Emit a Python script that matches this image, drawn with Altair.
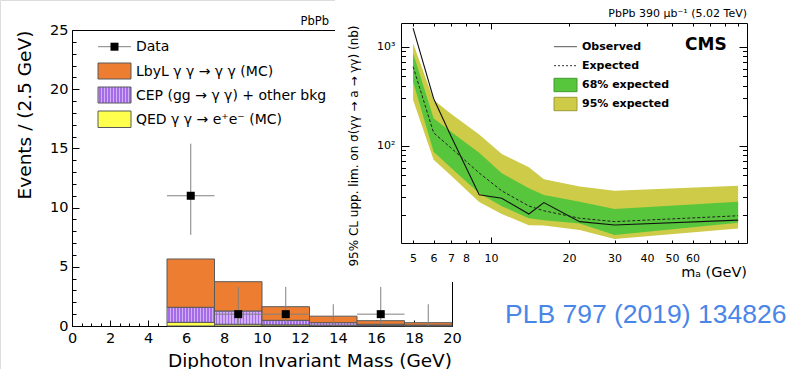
import altair as alt
import pandas as pd

FONT = "DejaVu Sans"

# ---------------- left panel: diphoton invariant mass ----------------
bin_lo = [5.0, 7.5, 10.0, 12.5, 15.0, 17.5]
bin_hi = [7.5, 10.0, 12.5, 15.0, 17.5, 20.0]
qed_mc = [0.31, 0.15, 0.10, 0.07, 0.04, 0.02]
cep_bkg = [1.27, 1.12, 0.38, 0.21, 0.11, 0.06]
lbyl_mc = [4.08, 2.47, 1.15, 0.55, 0.30, 0.20]

data_mass = [6.25, 8.75, 11.25, 13.75, 16.25, 18.75]
data_events = [11, 1, 1, 0, 1, 0]
data_err_down = [3.3, 0.83, 0.83, 0.0, 0.83, 0.0]
data_err_up = [4.4, 2.3, 2.3, 1.84, 2.3, 1.84]

# ---------------- right panel: ALP cross-section limits ----------------
ma = [5, 6, 7, 9, 11, 14, 16, 22, 30, 90]
observed = [1540, 300, 125, 32, 29.4, 20.4, 26.6, 17.1, 15.8, 17.7]
expected = [628, 135, 95, 53, 35, 24.6, 22.0, 18.5, 17.1, 19.6]
band68_lo = [442, 87, 60, 33, 24.5, 18.5, 17.7, 16.4, 12.5, 16.7]
band68_hi = [857, 189, 138, 85, 52.6, 37.2, 31.8, 27.2, 22.9, 27.2]
band95_lo = [290, 72, 50, 27, 20.4, 15.7, 15.6, 14.1, 11.4, 14.6]
band95_hi = [1080, 290, 210, 130, 82.4, 60.5, 45.7, 38.6, 35.1, 39.3]

# ---------------- tick values ----------------
xl_major = list(range(0, 21, 2))
xl_minor = [v / 2 for v in range(0, 41) if v % 4 != 0]
yl_major = [0, 5, 10, 15, 20, 25]
yl_minor = [v for v in range(1, 25) if v % 5 != 0]
xr_major = [10]
xr_minor = [5, 6, 7, 8, 9, 20, 30, 40, 50, 60, 70, 80, 90]
yr_major = [100, 1000]
yr_minor = [20, 30, 40, 50, 60, 70, 80, 90, 200, 300, 400, 500, 600, 700, 800, 900]

# ---------------- colours ----------------
ORANGE = "#ec7d31"
YELLOW = "#ffff4d"
EDGE = "#5a5a5a"
P_LIGHT = "#d2b0f7"
P_DARK = "#a56ce9"
GREEN = "#58c63c"
OLIVE = "#cdcb48"

# ---------------- tables ----------------
hist = pd.DataFrame({"lo": bin_lo, "hi": bin_hi, "qed": qed_mc, "cep": cep_bkg, "lbyl": lbyl_mc})
hist["s0"] = 0.0
hist["s1"] = hist["qed"]
hist["s2"] = hist["s1"] + hist["cep"]
hist["s3"] = hist["s2"] + hist["lbyl"]

pts = pd.DataFrame({"m": data_mass, "n": data_events, "dn": data_err_down, "up": data_err_up,
                    "xlo": bin_lo, "xhi": bin_hi})
pts["ylo"] = pts["n"] - pts["dn"]
pts["yhi"] = pts["n"] + pts["up"]
pts_nz = pts[pts["n"] > 0]

lim = pd.DataFrame({"ma": ma, "obs": observed, "exp": expected,
                    "g_lo": band68_lo, "g_hi": band68_hi, "y_lo": band95_lo, "y_hi": band95_hi})

one = pd.DataFrame({"k": [0]})

# ---------------- scales (pixel ranges of each panel) ----------------
xL = alt.Scale(domain=[0, 20], range=[72, 452], nice=False, zero=False)
yL = alt.Scale(domain=[0, 25], range=[326, 30], nice=False, zero=False)
xR = alt.Scale(type="log", domain=[4.49, 97.4], range=[401, 747], nice=False)
yR = alt.Scale(type="log", domain=[10.4, 1734], range=[243, 23], nice=False)


def axis(orient, offset, values, tick=0, labels=False, domain=False, z=0, pad=0,
         expr=None, fs=15):
    kw = dict(orient=orient, offset=offset, values=values, grid=False, title=None,
              ticks=tick > 0, domain=domain, labels=labels, zindex=z,
              domainColor="black", domainWidth=1, tickColor="black", tickWidth=1,
              labelFont=FONT, labelFontSize=fs, labelColor="black", labelPadding=pad,
              labelFlush=False, labelOverlap=False, labelBound=False)
    if tick > 0:
        kw["tickSize"] = alt.ExprRef(expr=str(-tick))
    if expr:
        kw["labelExpr"] = expr
    return alt.Axis(**kw)


def stripes(n):
    stops = []
    for i in range(n):
        a, b, c = i / n, (i + 0.5) / n, (i + 1) / n
        stops += [alt.GradientStop(offset=a, color=P_LIGHT), alt.GradientStop(offset=b, color=P_LIGHT),
                  alt.GradientStop(offset=b, color=P_DARK), alt.GradientStop(offset=c, color=P_DARK)]
    return alt.LinearGradient(gradient="linear", stops=stops, x1=0, x2=1, y1=0, y2=0)


def txt(s, x, y, size, align="left", baseline="middle", weight="normal", angle=0,
        font=FONT, color="black"):
    kw = dict(text=s, align=align, baseline=baseline, fontSize=size, font=font,
              fontWeight=weight, color=color)
    if angle:
        kw["angle"] = angle
    return alt.Chart(one).mark_text(**kw).encode(x=alt.value(x), y=alt.value(y))


def box(x1, x2, y1, y2, fill, stroke=EDGE):
    return alt.Chart(one).mark_rect(fill=fill, stroke=stroke, strokeWidth=1).encode(
        x=alt.value(x1), x2=alt.value(x2), y=alt.value(y1), y2=alt.value(y2))


def hline(x1, x2, y, color, dash=None, width=1.0):
    kw = dict(color=color, strokeWidth=width)
    if dash:
        kw["strokeDash"] = dash
    return alt.Chart(one).mark_rule(**kw).encode(x=alt.value(x1), x2=alt.value(x2), y=alt.value(y))


# ---------------- left panel layers ----------------
qed_rect = alt.Chart(hist).mark_rect(fill=YELLOW, stroke=EDGE, strokeWidth=1).encode(
    x=alt.X("lo:Q", scale=xL, axis=axis("bottom", -43, xl_major, 6, labels=True, domain=True,
                                         pad=11, fs=14.5)),
    x2="hi:Q",
    y=alt.Y("s0:Q", scale=yL, axis=axis("left", -72, yl_major, 7, labels=True, domain=True,
                                         pad=11, fs=14.5)),
    y2="s1:Q")
cep_rect = alt.Chart(hist).mark_rect(fill=stripes(16), stroke=EDGE, strokeWidth=1).encode(
    x=alt.X("lo:Q", scale=xL, axis=axis("bottom", -43, xl_minor, 3)),
    x2="hi:Q",
    y=alt.Y("s1:Q", scale=yL, axis=axis("left", -72, yl_minor, 4)),
    y2="s2:Q")
lbyl_rect = alt.Chart(hist).mark_rect(fill=ORANGE, stroke=EDGE, strokeWidth=1).encode(
    x=alt.X("lo:Q", scale=xL, axis=axis("top", -30, xl_major, 0, domain=True)),
    x2="hi:Q",
    y=alt.Y("s2:Q", scale=yL, axis=axis("right", -338, yl_major, 0, domain=True)),
    y2="s3:Q")
err_v = alt.Chart(pts).mark_rule(color="#808080", strokeWidth=1).encode(
    x=alt.X("m:Q", scale=xL, axis=None),
    y=alt.Y("ylo:Q", scale=yL, axis=None), y2="yhi:Q")
err_h = alt.Chart(pts_nz).mark_rule(color="#808080", strokeWidth=1).encode(
    x=alt.X("xlo:Q", scale=xL, axis=None), x2="xhi:Q",
    y=alt.Y("n:Q", scale=yL, axis=None))
markers = alt.Chart(pts_nz).mark_square(size=64, color="black", opacity=1, filled=True).encode(
    x=alt.X("m:Q", scale=xL, axis=None),
    y=alt.Y("n:Q", scale=yL, axis=None))

left = alt.layer(qed_rect, cep_rect, lbyl_rect, err_v, err_h, markers).resolve_axis(
    x="independent", y="independent")

left_deco = [
    txt("PbPb", 329, 25, 11.5, align="right", baseline="alphabetic"),
    txt("Events / (2.5 GeV)", 25, 115, 18.5, align="center", angle=270),
    txt("Diphoton Invariant Mass (GeV)", 452, 366.5, 18.5, align="right", baseline="alphabetic"),
    hline(98, 131, 46.7, "#808080"),
    alt.Chart(one).mark_square(size=64, color="black", opacity=1, filled=True).encode(
        x=alt.value(114.5), y=alt.value(46.7)),
    txt("Data", 136, 47, 14),
    box(98, 131, 63, 79, ORANGE),
    txt("LbyL γ γ → γ γ (MC)", 136, 71.5, 14),
    box(98, 131, 87, 103, stripes(11)),
    txt("CEP (gg → γ γ) + other bkg", 136, 95.5, 14),
    box(98, 131, 111, 127.5, YELLOW),
    txt("QED γ γ → e⁺e⁻ (MC)", 136, 119.5, 14),
]

cover = alt.Chart(one).mark_rect(color="white").encode(
    x=alt.value(335), x2=alt.value(790), y=alt.value(0), y2=alt.value(282))

# ---------------- right panel layers ----------------
band95 = alt.Chart(lim).mark_area(color=OLIVE, opacity=1).encode(
    x=alt.X("ma:Q", scale=xR, axis=axis("bottom", -126, xr_major, 6, labels=True, domain=True,
                                         z=1, pad=15, expr="'10'", fs=11)),
    y=alt.Y("y_lo:Q", scale=yR, axis=axis("left", -401, yr_major, 8, labels=True, domain=True,
                                           z=1, pad=14, fs=11,
                                           expr="datum.value >= 1000 ? '10³' : '10²'")),
    y2="y_hi:Q")
band68 = alt.Chart(lim).mark_area(color=GREEN, opacity=1).encode(
    x=alt.X("ma:Q", scale=xR, axis=axis("bottom", -126, xr_minor, 3, labels=True, z=1, pad=12, fs=11,
                                         expr="datum.value == 9 || datum.value >= 70 ? '' : datum.value + ''")),
    y=alt.Y("g_lo:Q", scale=yR, axis=axis("left", -401, yr_minor, 4.5, z=1)),
    y2="g_hi:Q")
obs_line = alt.Chart(lim).mark_line(color="#111111", strokeWidth=1.1).encode(
    x=alt.X("ma:Q", scale=xR, axis=axis("top", -23, xr_major, 6, domain=True, z=1)),
    y=alt.Y("obs:Q", scale=yR, axis=axis("right", -43, yr_major, 8, domain=True, z=1)))
exp_line = alt.Chart(lim).mark_line(color="#222222", strokeWidth=1, strokeDash=[3, 2]).encode(
    x=alt.X("ma:Q", scale=xR, axis=axis("top", -23, xr_minor, 3, z=1)),
    y=alt.Y("exp:Q", scale=yR, axis=axis("right", -43, yr_minor, 4.5, z=1)))

right = alt.layer(band95, band68, obs_line, exp_line).resolve_axis(x="independent", y="independent")

right_deco = [
    txt("PbPb 390 μb⁻¹ (5.02 TeV)", 747, 17, 11, align="right", baseline="alphabetic"),
    txt("CMS", 685, 44.5, 17, weight="bold"),
    hline(554, 577, 46.7, "#555555"),
    txt("Observed", 582, 47, 11, weight="bold"),
    hline(554, 577, 65.7, "#333333", dash=[2, 2]),
    txt("Expected", 582, 66, 11, weight="bold"),
    box(554, 577, 78.3, 91.7, GREEN, stroke="#3f9a2a"),
    txt("68% expected", 582, 85, 11, weight="bold"),
    box(554, 577, 97.3, 110.7, OLIVE, stroke="#9e9c30"),
    txt("95% expected", 582, 104.3, 11, weight="bold"),
    txt("95% CL upp. lim. on σ(γγ → a → γγ) (nb)", 354, 146, 12, align="center", angle=270),
    txt("mₐ (GeV)", 747, 277, 14.5, align="right", baseline="alphabetic"),
]

plb = txt("PLB 797 (2019) 134826", 505, 323, 26.5, baseline="alphabetic",
          font="Liberation Sans", color="#4a86e8")

chart = alt.layer(left, *left_deco, cover, right, *right_deco, plb).resolve_scale(
    x="independent", y="independent"
).properties(
    width=790, height=369, autosize=alt.AutoSizeParams(type="none"), padding=0,
    background="white"
).configure_view(stroke=None).configure(font=FONT)

chart.save("out.html", embed_options={"renderer": "svg", "actions": False})
